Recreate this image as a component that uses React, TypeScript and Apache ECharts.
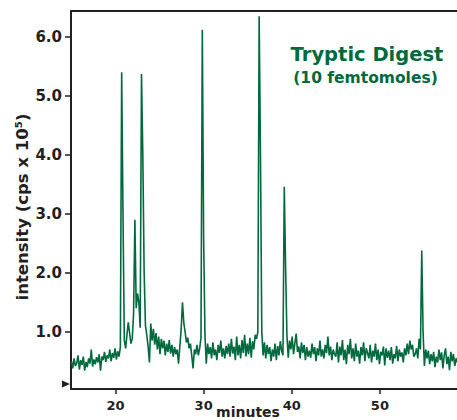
import React, { useEffect, useRef } from "react";
import * as echarts from "echarts";

const timeStart = 15;
const timeStep = 0.15;
const intensity = [
  0.50, 0.38, 0.55, 0.42, 0.47, 0.60, 0.36, 0.52, 0.44, 0.58, 0.34, 0.49, 0.40, 0.55, 0.46, 0.70, 0.41, 0.53, 0.45, 0.57,
  0.48, 0.62, 0.34, 0.58, 0.52, 0.66, 0.49, 0.60, 0.55, 0.70, 0.50, 0.64, 0.56, 0.72, 0.53, 0.67, 0.58, 0.74, 5.40, 3.00,
  0.85, 0.72, 0.95, 1.16, 0.98, 0.80, 0.88, 1.30, 2.90, 1.40, 1.65, 1.50, 1.07, 5.37, 4.00, 2.00, 1.10, 0.95, 0.75, 0.48,
  1.14, 0.85, 1.05, 0.78, 0.98, 0.70, 0.92, 0.62, 0.88, 0.72, 0.85, 0.60, 0.80, 0.66, 0.86, 0.63, 0.78, 0.58, 0.74, 0.62,
  0.70, 0.46, 0.75, 1.05, 1.50, 1.15, 1.00, 0.82, 0.90, 0.72, 0.80, 0.60, 0.38, 0.70, 0.62, 0.78, 0.60, 0.72, 0.90, 6.12,
  2.60, 0.95, 0.46, 0.80, 0.62, 0.74, 0.55, 0.82, 0.60, 0.70, 0.52, 0.78, 0.64, 0.85, 0.58, 0.72, 0.55, 0.76, 0.62, 0.80,
  0.58, 0.88, 0.63, 0.75, 0.52, 0.92, 0.60, 0.78, 0.55, 0.86, 0.64, 0.95, 0.58, 0.80, 0.62, 0.90, 0.56, 0.84, 0.70, 0.95,
  0.88, 1.00, 6.35, 4.00, 1.00, 0.60, 0.82, 0.55, 0.78, 0.62, 0.74, 0.50, 0.70, 0.58, 0.80, 0.52, 0.76, 0.60, 0.84, 0.68,
  0.60, 3.46, 2.10, 0.95, 0.56, 0.85, 0.70, 0.92, 0.62, 0.80, 0.97, 0.66, 0.75, 0.55, 0.82, 0.64, 0.78, 0.52, 0.74, 0.58,
  0.68, 0.56, 0.80, 0.62, 0.74, 0.50, 0.72, 0.60, 0.85, 0.58, 0.70, 0.55, 0.78, 0.64, 0.92, 0.60, 0.75, 0.52, 0.70, 0.62,
  0.58, 0.82, 0.48, 0.75, 0.60, 0.86, 0.52, 0.70, 0.45, 0.78, 0.62, 0.88, 0.55, 0.72, 0.50, 0.80, 0.58, 0.68, 0.46, 0.74,
  0.60, 0.82, 0.50, 0.72, 0.64, 0.55, 0.78, 0.48, 0.68, 0.58, 0.80, 0.52, 0.70, 0.45, 0.66, 0.60, 0.75, 0.43, 0.72, 0.56,
  0.68, 0.52, 0.74, 0.46, 0.62, 0.55, 0.76, 0.50, 0.70, 0.58, 0.65, 0.48, 0.72, 0.60, 0.80, 0.62, 0.85, 0.70, 0.78, 0.58,
  0.62, 0.72, 0.55, 0.88, 0.70, 2.38, 1.00, 0.42, 0.70, 0.55, 0.68, 0.45, 0.62, 0.50, 0.66, 0.40, 0.58, 0.48, 0.70, 0.52,
  0.65, 0.38, 0.60, 0.72, 0.45, 0.58, 0.35, 0.66, 0.50, 0.62, 0.42, 0.55, 0.48,
];
const xTickValues = [20, 30, 40, 50];
const yTickValues = [1, 2, 3, 4, 5, 6];
const titleText = "Tryptic Digest";
const subtitleText = "(10 femtomoles)";
const xName = "minutes";
const yName = "intensity (cps x 10\u2075)";

const GREEN = "#00693e";
const DARK = "#231f20";
const FONT = "DejaVu Sans";

export default function App() {
  const ref = useRef<HTMLDivElement>(null);
  useEffect(() => {
    if (!ref.current) return;
    const chart = echarts.init(ref.current, null, { renderer: "svg" });
    const data = intensity.map((v, i) => [timeStart + i * timeStep, v]);
    chart.setOption({
      animation: false,
      backgroundColor: "#ffffff",
      grid: { left: 71, right: 0, top: 11, bottom: 31, containLabel: false },
      xAxis: [
        {
          type: "value",
          min: 14.95,
          max: 58.75,
          position: "bottom",
          axisLine: { show: true, lineStyle: { color: DARK, width: 2 } },
          axisTick: { show: true, length: 5, customValues: xTickValues, lineStyle: { color: DARK, width: 1.5 } },
          axisLabel: {
            show: true,
            customValues: xTickValues,
            margin: 10,
            color: DARK,
            fontFamily: FONT,
            fontWeight: "bold",
            fontSize: 13,
          },
          splitLine: { show: false },
        },
        {
          type: "value",
          min: 14.95,
          max: 58.75,
          position: "top",
          axisLine: { show: true, lineStyle: { color: DARK, width: 2 } },
          axisTick: { show: false },
          axisLabel: { show: false },
          splitLine: { show: false },
        },
      ],
      yAxis: {
        type: "value",
        min: 0.03,
        max: 6.44,
        axisLine: { show: true, lineStyle: { color: DARK, width: 2 } },
        axisTick: { show: true, length: 6, customValues: yTickValues, lineStyle: { color: DARK, width: 1.5 } },
        axisLabel: {
          show: true,
          customValues: yTickValues,
          formatter: (v: number) => v.toFixed(1),
          margin: 9,
          color: DARK,
          fontFamily: FONT,
          fontWeight: "bold",
          fontSize: 15,
        },
        splitLine: { show: false },
      },
      series: [
        {
          type: "line",
          data,
          showSymbol: false,
          clip: true,
          lineStyle: { color: GREEN, width: 1.6 },
        },
      ],
      graphic: [
        {
          type: "text",
          x: 367,
          y: 54,
          style: {
            text: titleText,
            fill: GREEN,
            font: `bold 19.5px "${FONT}"`,
            textAlign: "center",
            textVerticalAlign: "middle",
          },
        },
        {
          type: "text",
          x: 365.5,
          y: 78,
          style: {
            text: subtitleText,
            fill: GREEN,
            font: `bold 15.5px "${FONT}"`,
            textAlign: "center",
            textVerticalAlign: "middle",
          },
        },
        {
          type: "text",
          x: 248,
          y: 412,
          style: {
            text: xName,
            fill: DARK,
            font: `bold 14px "${FONT}"`,
            textAlign: "center",
            textVerticalAlign: "middle",
          },
        },
        {
          type: "text",
          x: 22,
          y: 207,
          rotation: Math.PI / 2,
          style: {
            text: yName,
            fill: DARK,
            font: `bold 16.5px "${FONT}"`,
            textAlign: "center",
            textVerticalAlign: "middle",
          },
        },
        {
          type: "polygon",
          shape: { points: [[62, 380.5], [70, 384], [62, 387.5]] },
          style: { fill: DARK },
        },
      ],
    });
    return () => chart.dispose();
  }, []);
  return (
    <div
      ref={ref}
      style={{ position: "fixed", left: 0, top: 0, width: 457, height: 420, background: "#fff" }}
    />
  );
}
